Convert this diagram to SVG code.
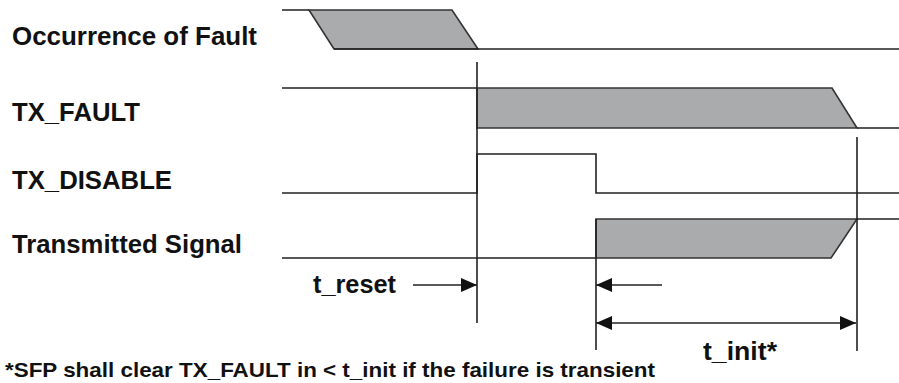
<svg xmlns="http://www.w3.org/2000/svg" width="899" height="383" viewBox="0 0 899 383">
<style>
.lbl{font-family:"Liberation Sans",Arial,sans-serif;font-weight:bold;font-size:25px;fill:#111}
.note{font-family:"Liberation Sans",Arial,sans-serif;font-weight:bold;font-size:21px;fill:#111}
.ln{stroke:#222;stroke-width:1.6;fill:none}
.box{fill:#a9abad;stroke:#333;stroke-width:1.6;stroke-linejoin:miter}
</style>
<defs>
<marker id="ah" viewBox="0 0 16 14" refX="16" refY="7" markerWidth="16" markerHeight="14" markerUnits="userSpaceOnUse" orient="auto-start-reverse">
<path d="M0,0 L16,7 L0,14 Z" fill="#111"/>
</marker>
</defs>
<rect width="899" height="383" fill="#fff"/>
<g id="label-occurrence"><text class="lbl" x="12" y="45" textLength="245" lengthAdjust="spacingAndGlyphs">Occurrence of Fault</text></g>
<g id="label-txfault"><text class="lbl" x="12" y="121" textLength="128" lengthAdjust="spacingAndGlyphs">TX_FAULT</text></g>
<g id="label-txdisable"><text class="lbl" x="12" y="189" textLength="160" lengthAdjust="spacingAndGlyphs">TX_DISABLE</text></g>
<g id="label-transmitted"><text class="lbl" x="12" y="253" textLength="230" lengthAdjust="spacingAndGlyphs">Transmitted Signal</text></g>
<g id="sig-occurrence">
<polygon class="box" points="309,10 452,10 478,49 334,49"/>
<path class="ln" d="M282,10 H309 M334,49 H899"/>
</g>
<g id="sig-txfault">
<polygon class="box" points="477,88 832,88 857,128 477,128"/>
<path class="ln" d="M282,88 H477 M857,128 H899"/>
</g>
<g id="sig-txdisable">
<path class="ln" d="M282,193 H477 V154 H596 V193 H899"/>
</g>
<g id="sig-transmitted">
<polygon class="box" points="596,219 857,219 831,258 596,258"/>
<path class="ln" d="M282,258 H596 M857,219 H899"/>
</g>
<g id="connectors">
<path class="ln" d="M477,62 V323 M596,219 V350 M857,137 V351"/>
<line class="ln" x1="413" y1="285" x2="477" y2="285" marker-end="url(#ah)"/>
<line class="ln" x1="662" y1="285" x2="596" y2="285" marker-end="url(#ah)"/>
<line class="ln" x1="596" y1="323" x2="856" y2="323" marker-start="url(#ah)" marker-end="url(#ah)"/>
</g>
<g id="label-treset"><text class="lbl" x="313" y="293" textLength="83" lengthAdjust="spacingAndGlyphs">t_reset</text></g>
<g id="label-tinit"><text class="lbl" x="703" y="360" textLength="74" lengthAdjust="spacingAndGlyphs">t_init*</text></g>
<g id="footnote"><text class="note" x="5" y="377" textLength="650" lengthAdjust="spacingAndGlyphs">*SFP shall clear TX_FAULT in &lt; t_init if the failure is transient</text></g>
</svg>
